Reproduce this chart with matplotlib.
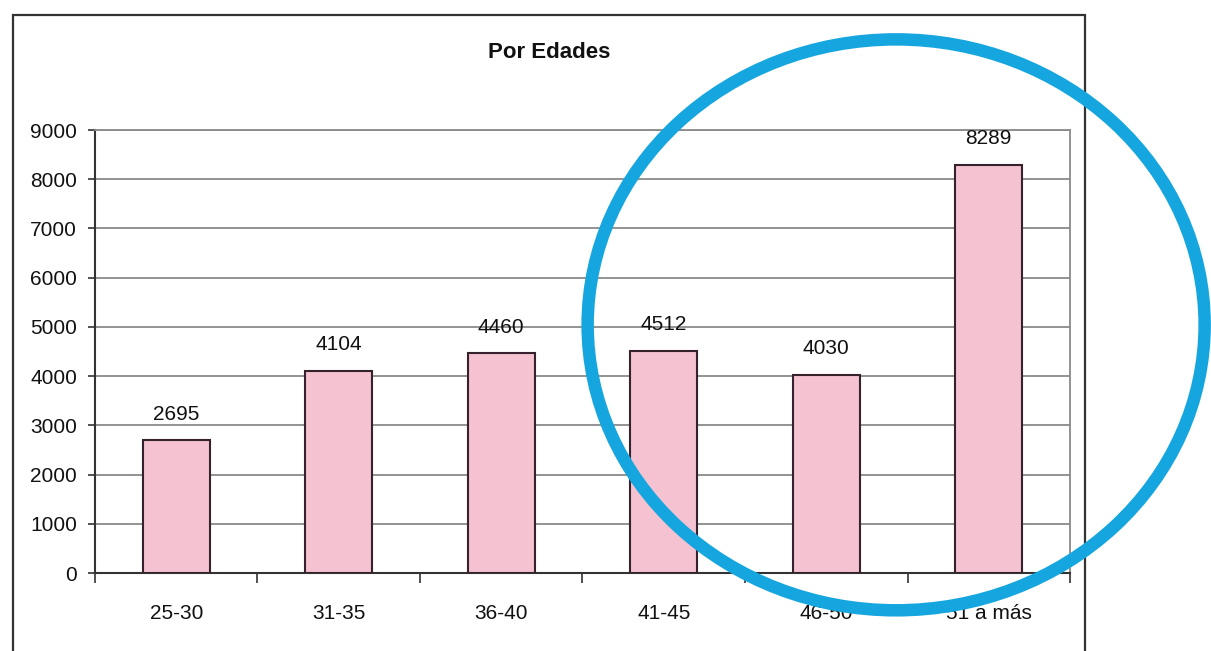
import numpy as np
from matplotlib import pyplot as plt
from matplotlib.patches import Rectangle, Ellipse

# data
categories = ['25-30', '31-35', '36-40', '41-45', '46-50', '51 a más']
values = [2695, 4104, 4460, 4512, 4030, 8289]
y_ticks = [0, 1000, 2000, 3000, 4000, 5000, 6000, 7000, 8000, 9000]

plt.rcParams['font.family'] = ['Liberation Sans', 'DejaVu Sans']

fig = plt.figure(figsize=(12.11, 6.51), dpi=100)
ax = fig.add_axes([0.0784, 0.1198, 0.8052, 0.6805])

x = np.arange(len(categories))
bars = ax.bar(x, values, width=0.41, color='#F5C2D1', edgecolor='#35222d', linewidth=1.5, zorder=3)

##
# value labels above each bar
for xi, v in zip(x, values):
    ax.annotate(str(v), (xi, v), xytext=(0, 12), textcoords='offset points',
                ha='center', va='bottom', fontsize=15, color='#111111')

ax.set_xlim(-0.5, len(categories) - 0.5)
ax.set_ylim(0, 9000)
ax.set_yticks(y_ticks)
ax.set_yticklabels([str(t) for t in y_ticks])
ax.set_xticks(x)
ax.set_xticklabels(categories)
ax.set_xticks(np.arange(len(categories) + 1) - 0.5, minor=True)

ax.tick_params(axis='y', length=5, width=1.2, color='#333333', pad=8, labelsize=15, labelcolor='#111111')
ax.tick_params(axis='x', which='major', length=0, pad=22, labelsize=15, labelcolor='#111111')
ax.tick_params(axis='x', which='minor', length=7, width=1.2, color='#333333')

ax.yaxis.grid(True, color='#8a8a8a', linewidth=1.3, zorder=0)
ax.set_axisbelow(True)
for side in ['top', 'right']:
    ax.spines[side].set_color('#8a8a8a')
    ax.spines[side].set_linewidth(1.3)
for side in ['left', 'bottom']:
    ax.spines[side].set_color('#333333')
    ax.spines[side].set_linewidth(1.5)

##
# title and outer chart frame
fig.text(0.4535, 0.92, 'Por Edades', ha='center', va='center', fontsize=16, fontweight='bold', color='#111111')
fig.patches.append(Rectangle((0.0107, -0.05), 0.8849, 1.027, transform=fig.transFigure,
                             fill=False, edgecolor='#333333', linewidth=1.6, zorder=1))

# blue circle highlight drawn over the chart
fig.patches.append(Ellipse((0.740, 0.501), 0.5095, 0.877, transform=fig.transFigure,
                           fill=False, edgecolor='#16A6DF', linewidth=9, zorder=10))

plt.savefig('out.png', dpi=100)
